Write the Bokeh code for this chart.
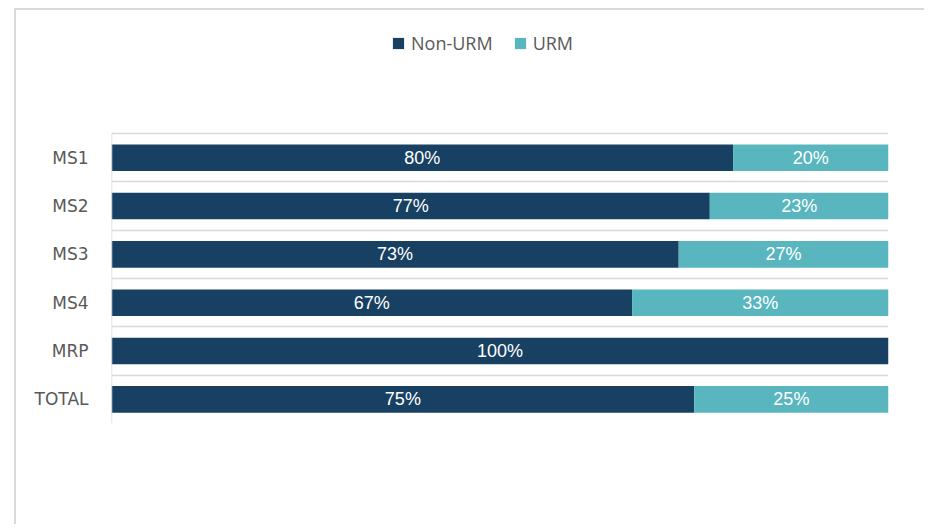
from bokeh.plotting import figure
from bokeh.models import (ColumnDataSource, Range1d, FixedTicker, Legend, LegendItem)
from bokeh.core.properties import value
from bokeh.embed import file_html
from bokeh.resources import INLINE

categories = ["MS1", "MS2", "MS3", "MS4", "MRP", "TOTAL"]
non_urm = [80, 77, 73, 67, 100, 75]
urm = [20, 23, 27, 33, 0, 25]
series_names = ["Non-URM", "URM"]
colors = ["#174062", "#59b6bf"]

n = len(categories)
ypos = [n - i for i in range(n)]

# layout (pixels)
W, H = 910, 516
FRAME_H = 413          # frame from canvas top to bottom border
BAND_PX = 290 / n      # height of one category band
y_top = 0.5 + FRAME_H / BAND_PX

src = ColumnDataSource(dict(
    y=ypos,
    a0=[0] * n,
    a1=non_urm,
    b0=non_urm,
    b1=[a + b for a, b in zip(non_urm, urm)],
))

p = figure(width=W, height=H, output_backend="svg", toolbar_location=None,
           x_range=Range1d(0, 100), y_range=Range1d(0.5, y_top),
           min_border_left=95, min_border_right=38, min_border_top=0,
           min_border_bottom=H - FRAME_H)
p.styles = {"margin-left": "14px", "margin-top": "8px",
            "border-top": "2px solid #d9d9d9",
            "border-left": "2px solid #d9d9d9"}
p.outline_line_color = None
p.background_fill_color = "white"
p.border_fill_color = "white"

r1 = p.hbar(y="y", left="a0", right="a1", height=0.55, source=src,
            fill_color=colors[0], line_color=None)
r2 = p.hbar(y="y", left="b0", right="b1", height=0.55, source=src,
            fill_color=colors[1], line_color=None)

# left axis line only over the category bands
p.segment(x0=[0], y0=[0.5], x1=[0], y1=[n + 0.5], line_color="#d9d9d9",
          line_width=1.5)

# labels
lx, ly, lt = [], [], []
for i in range(n):
    if non_urm[i] > 0:
        lx.append(non_urm[i] / 2); ly.append(ypos[i]); lt.append(f"{non_urm[i]}%")
    if urm[i] > 0:
        lx.append(non_urm[i] + urm[i] / 2); ly.append(ypos[i]); lt.append(f"{urm[i]}%")
p.text(x=lx, y=ly, text=lt, text_color="white", text_align="center",
       text_baseline="middle", text_font=value("Liberation Sans"),
       text_font_size="18px")

p.xaxis.visible = False
p.xgrid.visible = False
p.ygrid.ticker = FixedTicker(ticks=[k + 0.5 for k in range(n + 1)])
p.ygrid.grid_line_color = "#d9d9d9"
p.ygrid.grid_line_width = 1.5

p.yaxis.ticker = FixedTicker(ticks=ypos)
p.yaxis.major_label_overrides = {ypos[i]: categories[i] for i in range(n)}
p.yaxis.major_tick_line_color = None
p.yaxis.minor_tick_line_color = None
p.yaxis.axis_line_color = None
p.yaxis.major_label_standoff = 17
p.yaxis.major_label_text_font = "DejaVu Sans"
p.yaxis.major_label_text_font_size = "17px"
p.yaxis.major_label_text_color = "#595959"

legend = Legend(items=[LegendItem(label=series_names[0], renderers=[r1]),
                       LegendItem(label=series_names[1], renderers=[r2])],
                orientation="horizontal", location=(280, 368),
                padding=0, margin=0, spacing=20, label_standoff=6,
                glyph_width=14, glyph_height=14, border_line_color=None,
                background_fill_alpha=0,
                label_text_font="Open Sans", label_text_font_size="18px",
                label_text_color="#595959")
p.add_layout(legend, "center")

open("out.html", "w").write(file_html(p, INLINE))
